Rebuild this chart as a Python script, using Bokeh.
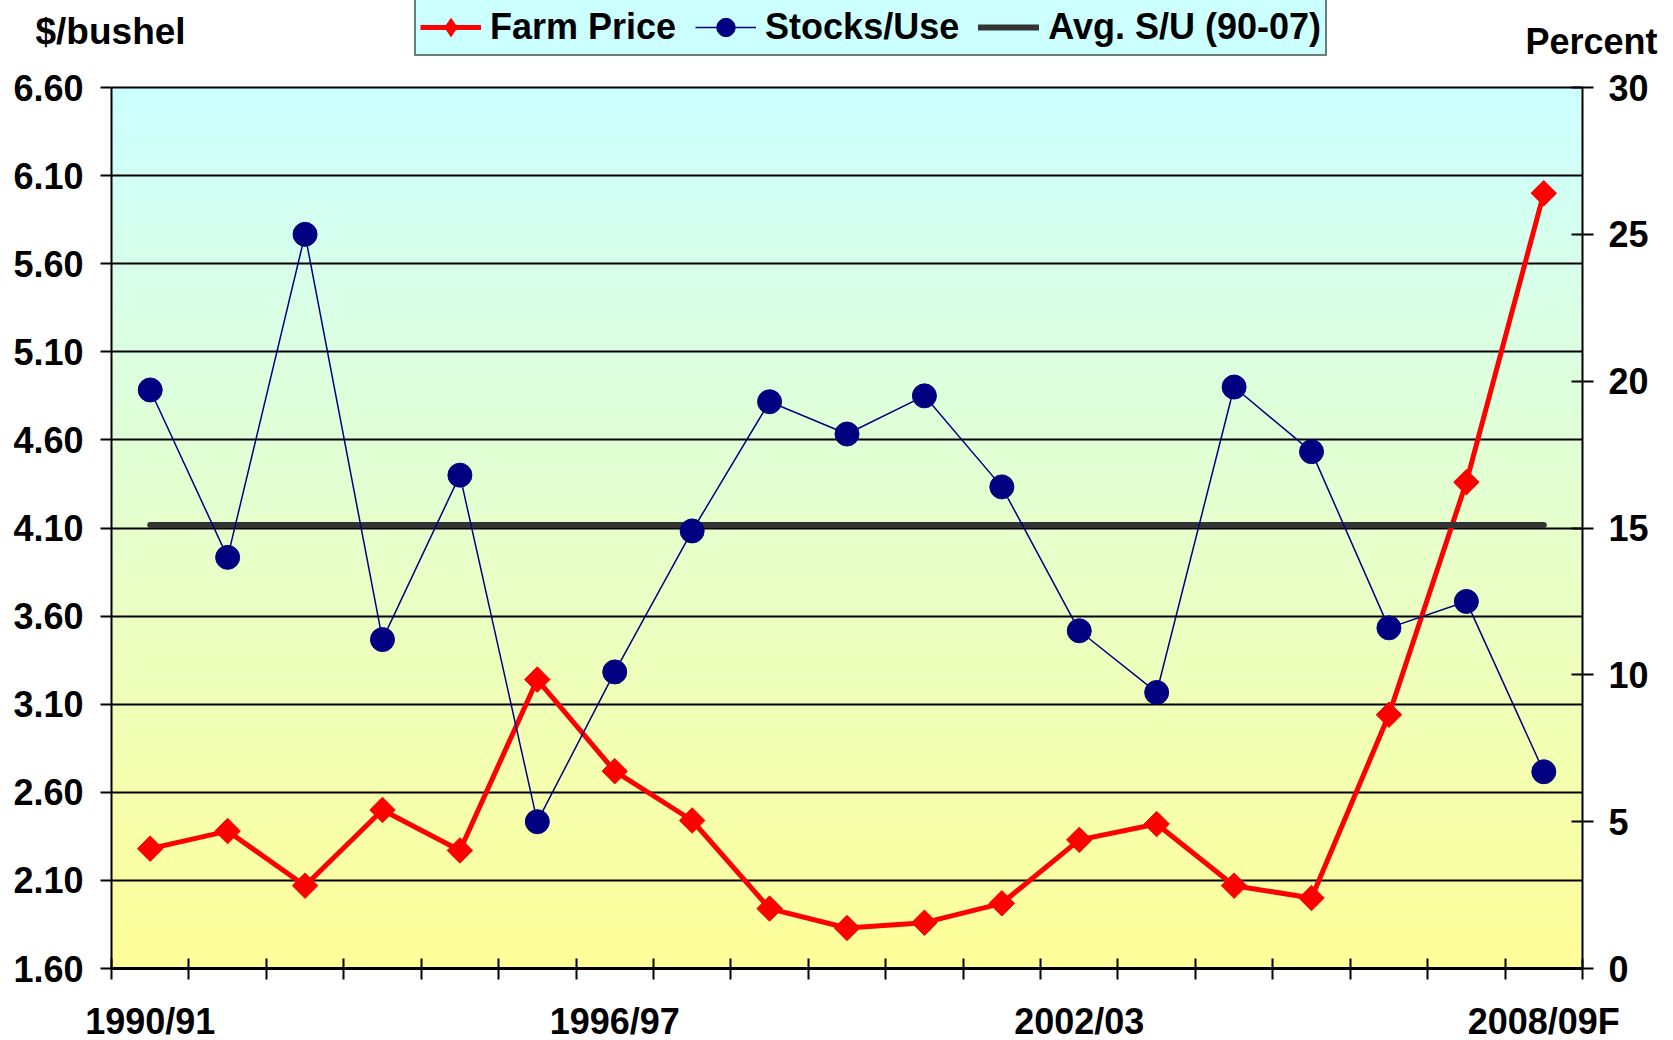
import numpy as np
from bokeh.plotting import figure
from bokeh.models import (Range1d, LinearAxis, FixedTicker, PrintfTickFormatter,
                          Legend, LegendItem, Label, Grid)
from bokeh.embed import file_html
from bokeh.resources import INLINE

# ---------------- data ----------------
seasons = ["1990/91", "1991/92", "1992/93", "1993/94", "1994/95", "1995/96",
           "1996/97", "1997/98", "1998/99", "1999/00", "2000/01", "2001/02",
           "2002/03", "2003/04", "2004/05", "2005/06", "2006/07", "2007/08",
           "2008/09F"]
farm_price = [2.28, 2.38, 2.07, 2.50, 2.27, 3.24, 2.72, 2.44, 1.94, 1.83,
              1.86, 1.97, 2.33, 2.42, 2.07, 2.00, 3.04, 4.36, 6.00]
stocks_use = [19.7, 14.0, 25.0, 11.2, 16.8, 5.0, 10.1, 14.9, 19.3, 18.2,
              19.5, 16.4, 11.5, 9.4, 19.8, 17.6, 11.6, 12.5, 6.7]
avg_su_value = 15.1
price_ticks = [1.60, 2.10, 2.60, 3.10, 3.60, 4.10, 4.60, 5.10, 5.60, 6.10, 6.60]
pct_ticks = [0, 5, 10, 15, 20, 25, 30]
labeled_seasons = ["1990/91", "1996/97", "2002/03", "2008/09F"]

FONT = "Liberation Sans"
FS = "36px"

# ---------------- layout (pixel box of the plot area inside the canvas) ----
W, H = 1673, 1040
PL, PR, PT, PB = 111, 1582, 87, 968

n = len(seasons)
x = list(range(n))
avg_su = [avg_su_value] * n

xs0, xs1 = -0.5, n - 0.5
ys0, ys1 = price_ticks[0], price_ticks[-1]
ps0, ps1 = pct_ticks[0], pct_ticks[-1]
ppx = (PR - PL) / (xs1 - xs0)
ppy = (PB - PT) / (ys1 - ys0)
ppp = (PB - PT) / (ps1 - ps0)

p = figure(width=W, height=H,
           x_range=Range1d(xs0 - PL / ppx, xs1 + (W - PR) / ppx),
           y_range=Range1d(ys0 - (H - PB) / ppy, ys1 + PT / ppy),
           x_axis_type=None, y_axis_type=None,
           output_backend="svg", toolbar_location=None,
           min_border=0, min_border_left=0, min_border_right=0,
           min_border_top=0, min_border_bottom=0)
p.extra_y_ranges = {"pct": Range1d(ps0 - (H - PB) / ppp, ps1 + PT / ppp)}
p.background_fill_color = "white"
p.border_fill_color = "white"
p.outline_line_color = None

# ---- gradient background (cyan top -> yellow bottom) ----
rows = 256
t = np.linspace(0.0, 1.0, rows)
img = np.empty((rows, 1), dtype=np.uint32)
view = img.view(dtype=np.uint8).reshape((rows, 1, 4))
view[:, 0, 0] = np.round(255 + (204 - 255) * t).astype(np.uint8)
view[:, 0, 1] = 255
view[:, 0, 2] = np.round(153 + (255 - 153) * t).astype(np.uint8)
view[:, 0, 3] = 255
p.image_rgba(image=[img], x=xs0, y=ys0, dw=xs1 - xs0, dh=ys1 - ys0, level="image")

# ---- horizontal grid lines ----
if "cross_bounds" in Grid.properties():
    grid = Grid(dimension=1, ticker=FixedTicker(ticks=price_ticks),
                bounds=(ys0, ys1), cross_bounds=(xs0, xs1),
                grid_line_color="black", grid_line_width=2)
    p.add_layout(grid)
else:
    p.segment(x0=xs0, x1=xs1, y0=price_ticks, y1=price_ticks,
              line_color="black", line_width=2, level="underlay")

# ---- x axis ----
major_idx = [seasons.index(s) for s in labeled_seasons]
xax = LinearAxis(fixed_location=ys0, bounds=(xs0, xs1),
                 ticker=FixedTicker(ticks=major_idx,
                                    minor_ticks=[i - 0.5 for i in range(n + 1)]))
xax.major_label_overrides = {i: seasons[i] for i in major_idx}
xax.major_tick_in = 0
xax.major_tick_out = 0
xax.minor_tick_in = 10
xax.minor_tick_out = 11
xax.minor_tick_line_color = "black"
xax.minor_tick_line_width = 2
xax.axis_line_color = "black"
xax.axis_line_width = 3
xax.major_label_standoff = 21
xax.major_label_text_font = FONT
xax.major_label_text_font_style = "bold"
xax.major_label_text_font_size = FS
xax.major_label_text_color = "black"
p.add_layout(xax, "below")

# ---- left y axis ----
yax = LinearAxis(fixed_location=xs0, bounds=(ys0, ys1),
                 ticker=FixedTicker(ticks=price_ticks),
                 formatter=PrintfTickFormatter(format="%.2f"))
yax.major_tick_in = 0
yax.major_tick_out = 11
yax.major_tick_line_width = 2
yax.minor_tick_line_color = None
yax.axis_line_width = 2
yax.major_label_standoff = 17
yax.major_label_text_font = FONT
yax.major_label_text_font_style = "bold"
yax.major_label_text_font_size = FS
yax.major_label_text_color = "black"
p.add_layout(yax, "left")

# ---- right y axis ----
rax = LinearAxis(y_range_name="pct", fixed_location=xs1, bounds=(ps0, ps1),
                 ticker=FixedTicker(ticks=pct_ticks))
rax.major_tick_in = 11
rax.major_tick_out = 11
rax.major_tick_line_width = 2
rax.minor_tick_line_color = None
rax.axis_line_width = 2
rax.major_label_standoff = 15
rax.major_label_text_font = FONT
rax.major_label_text_font_style = "bold"
rax.major_label_text_font_size = FS
rax.major_label_text_color = "black"
p.add_layout(rax, "right")

# ---- series ----
r_line = p.line(x, farm_price, line_color="#FF0000", line_width=5)
r_pts = p.scatter(x, farm_price, marker="square", angle=np.pi / 4, size=18,
                  fill_color="#FF0000", line_color="#FF0000")
# diamond-shaped twin of the price markers, used only for the legend swatch
r_leg = p.scatter(x, farm_price, marker="diamond", size=24,
                  fill_color="#FF0000", line_color="#FF0000", visible=False)
g_line = p.line(x, avg_su, y_range_name="pct", line_color="#333333",
                line_width=6, line_cap="round")
b_line = p.line(x, stocks_use, y_range_name="pct", line_color="#000080",
                line_width=1.5)
b_pts = p.scatter(x, stocks_use, y_range_name="pct", marker="circle", size=24,
                  fill_color="#000080", line_color="#000080")

# ---- legend (top, inside the canvas-wide frame) ----
LEG_H = 53
legend = Legend(items=[LegendItem(label="Farm Price", renderers=[r_line, r_leg]),
                       LegendItem(label="Stocks/Use", renderers=[b_line, b_pts]),
                       LegendItem(label="Avg. S/U (90-07)", renderers=[g_line])],
                orientation="horizontal", location=(414, H - 3 - LEG_H),
                glyph_width=61, glyph_height=46, label_standoff=9, spacing=19,
                padding=4, margin=0,
                label_text_font=FONT, label_text_font_style="bold",
                label_text_font_size=FS, label_text_color="black",
                background_fill_color="#CCFFFF", background_fill_alpha=1,
                border_line_color="black", border_line_width=2)
p.add_layout(legend, "center")

# ---- axis unit titles ----
p.add_layout(Label(x=35, y=H - 31, x_units="screen", y_units="screen",
                   text="$/bushel", text_font=FONT, text_font_style="bold",
                   text_font_size="37px", text_baseline="middle", text_align="left",
                   text_color="black"))
p.add_layout(Label(x=1657, y=H - 41, x_units="screen", y_units="screen",
                   text="Percent", text_font=FONT, text_font_style="bold",
                   text_font_size=FS, text_baseline="middle", text_align="right",
                   text_color="black"))

open("out.html", "w").write(file_html(p, INLINE))
